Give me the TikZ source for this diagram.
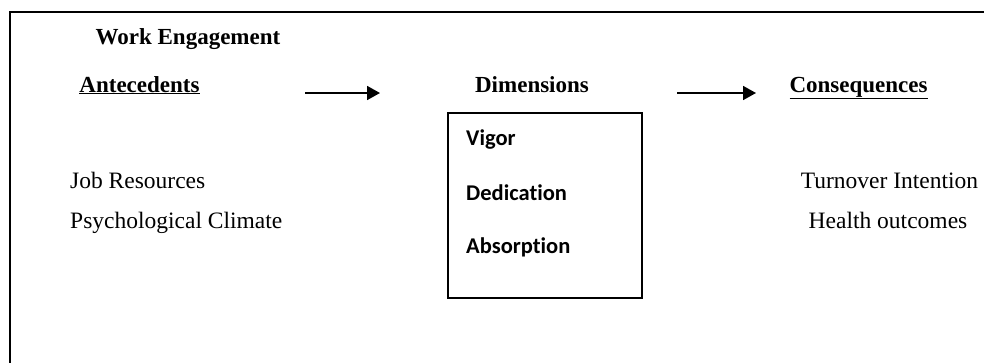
\documentclass[tikz,border=0pt]{standalone}
\usepackage{fontspec}
\setmainfont{Liberation Serif}
\newfontfamily\boxfont[Ligatures=NoCommon]{Carlito}
\usetikzlibrary{arrows.meta}
\tikzset{
  plain/.style={inner sep=0pt, anchor=base, font=\fontsize{23.5}{28}\selectfont},
  heading/.style={inner sep=0pt, anchor=base, font=\fontsize{23}{28}\selectfont\bfseries},
  dimtext/.style={inner sep=0pt, anchor=base west, font=\fontsize{22.5}{27}\boxfont\bfseries},
  flow/.style={line width=1.8pt, -{Triangle[length=13pt,width=14pt]}},
  frame/.style={line width=1.5pt}
}
\begin{document}
\begin{tikzpicture}[x=1pt,y=-1pt]
\useasboundingbox (0,0) rectangle (984,362);
% outer frame (only left and top edges lie inside the page)
\draw[frame] (10,380) -- (10,12) -- (1000,12);
% title and column headings
\node[heading] (title) at (188,44) {Work Engagement};
\node[heading] (ante) at (139.5,92) {\underline{Antecedents}};
\node[heading] (dims) at (532,92) {Dimensions};
\node[heading] (cons) at (858.5,92) {\underline{Consequences}};
% flow arrows between the headings
\coordinate (a1s) at (305,93);
\coordinate (a1e) at (380,93);
\coordinate (a2s) at (677,93);
\coordinate (a2e) at (756,93);
\draw[flow] (a1s) -- (a1e);
\draw[flow] (a2s) -- (a2e);
% dimensions box
\node[draw, line width=1.3pt, minimum width=194pt, minimum height=185pt, inner sep=0pt] (box) at (545,205.5) {};
\node[dimtext] (vigor) at (466,145) {Vigor};
\node[dimtext] (dedic) at (466,200) {Dedication};
\node[dimtext] (absorp) at (466,253) {Absorption};
% antecedents
\node[plain, anchor=base west] (jobres) at (70,188) {Job Resources};
\node[plain, anchor=base west] (psych) at (70,228) {Psychological Climate};
% consequences
\node[plain] (turn) at (889.5,188) {Turnover Intention};
\node[plain] (health) at (888,228) {Health outcomes};
\end{tikzpicture}
\end{document}
